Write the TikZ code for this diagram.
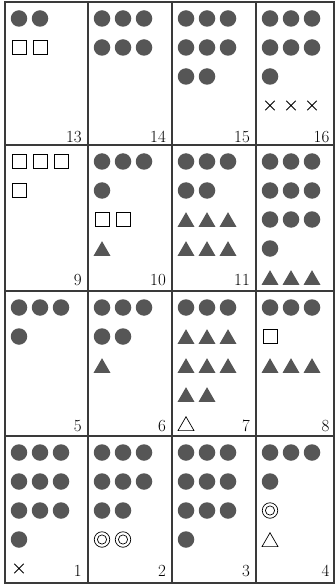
\documentclass[tikz,border=0pt]{standalone}
\usetikzlibrary{shapes.geometric,shapes.misc}

\definecolor{shapegray}{HTML}{565656}
\definecolor{gridgray}{HTML}{3A3A3A}

\begin{document}
\begin{tikzpicture}[x=1pt, y=-1pt,
  fulldot/.style={circle, fill=shapegray, minimum size=16.5pt, inner sep=0pt},
  opensq/.style={draw=black, line width=0.7pt, minimum size=14pt, inner sep=0pt},
  fulltri/.style={regular polygon, regular polygon sides=3, fill=shapegray, minimum size=19.6pt, inner sep=0pt, yshift=-2.5pt},
  opentri/.style={regular polygon, regular polygon sides=3, draw=black, line width=0.7pt, minimum size=18.5pt, inner sep=0pt, yshift=-2.5pt},
  dblring/.style={circle, draw=black, line width=0.7pt, minimum size=15.5pt, inner sep=0pt,
    path picture={\draw[line width=0.7pt] (path picture bounding box.center) circle (4.6pt);}},
  crossmk/.style={cross out, draw=black, line width=0.9pt, minimum size=8.5pt, inner sep=0pt},
  cellnum/.style={anchor=base east, inner sep=0pt, font=\fontsize{17}{18}\selectfont},
  gridline/.style={draw=gridgray, line width=1.2pt}]
  \useasboundingbox (0,0) rectangle (335,585);

  \def\colx{{5,88,172,256}}
  \def\colr{{82,166,250,329.5}}
  \def\rowt{{2,145,291,436}}

  % table frame
  \draw[gridline] (5,2) rectangle (334,583);
  \foreach \gx in {88,172,256} \draw[gridline] (\gx,2) -- (\gx,583);
  \foreach \gy in {145,291,436} \draw[gridline] (5,\gy) -- (334,\gy);

  % marks: column / row / line in cell / kind / how many
  \foreach \col/\row/\lin/\kind/\cnt in {
    0/0/0/fulldot/2, 0/0/1/opensq/2,
    1/0/0/fulldot/3, 1/0/1/fulldot/3,
    2/0/0/fulldot/3, 2/0/1/fulldot/3, 2/0/2/fulldot/2,
    3/0/0/fulldot/3, 3/0/1/fulldot/3, 3/0/2/fulldot/1, 3/0/3/crossmk/3,
    0/1/0/opensq/3, 0/1/1/opensq/1,
    1/1/0/fulldot/3, 1/1/1/fulldot/1, 1/1/2/opensq/2, 1/1/3/fulltri/1,
    2/1/0/fulldot/3, 2/1/1/fulldot/2, 2/1/2/fulltri/3, 2/1/3/fulltri/3,
    3/1/0/fulldot/3, 3/1/1/fulldot/3, 3/1/2/fulldot/3, 3/1/3/fulldot/1, 3/1/4/fulltri/3,
    0/2/0/fulldot/3, 0/2/1/fulldot/1,
    1/2/0/fulldot/3, 1/2/1/fulldot/2, 1/2/2/fulltri/1,
    2/2/0/fulldot/3, 2/2/1/fulltri/3, 2/2/2/fulltri/3, 2/2/3/fulltri/2, 2/2/4/opentri/1,
    3/2/0/fulldot/3, 3/2/1/opensq/1, 3/2/2/fulltri/3,
    0/3/0/fulldot/3, 0/3/1/fulldot/3, 0/3/2/fulldot/3, 0/3/3/fulldot/1, 0/3/4/crossmk/1,
    1/3/0/fulldot/3, 1/3/1/fulldot/3, 1/3/2/fulldot/2, 1/3/3/dblring/2,
    2/3/0/fulldot/3, 2/3/1/fulldot/3, 2/3/2/fulldot/3, 2/3/3/fulldot/1,
    3/3/0/fulldot/3, 3/3/1/fulldot/1, 3/3/2/dblring/1, 3/3/3/opentri/1}
    \foreach \k in {1,...,\cnt} {
      \pgfmathsetmacro{\px}{\colx[\col] + 14 + 21*(\k-1)}
      \pgfmathsetmacro{\py}{\rowt[\row] + 16.5 + 29*\lin}
      \node[\kind] (m-\col-\row-\lin-\k) at (\px,\py) {};
    }

  % cell numbers
  \foreach \col/\row/\num in {0/0/13, 1/0/14, 2/0/15, 3/0/16,
                             0/1/9, 1/1/10, 2/1/11,
                             0/2/5, 1/2/6, 2/2/7, 3/2/8,
                             0/3/1, 1/3/2, 2/3/3, 3/3/4} {
    \pgfmathsetmacro{\px}{\colr[\col]}
    \pgfmathsetmacro{\py}{\rowt[\row] + 140.5}
    \node[cellnum] (n\num) at (\px,\py) {\num};
  }
\end{tikzpicture}
\end{document}
